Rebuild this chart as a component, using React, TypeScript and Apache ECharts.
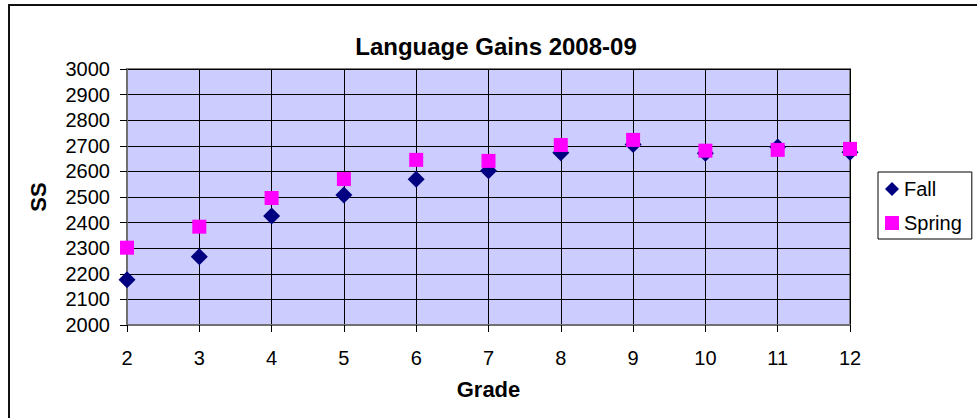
import React, { useEffect, useRef } from "react";
import * as echarts from "echarts";

const grades = [2, 3, 4, 5, 6, 7, 8, 9, 10, 11, 12];
const fallValues = [2177, 2267, 2426, 2508, 2569, 2603, 2673, 2705, 2671, 2695, 2675];
const springValues = [2302, 2384, 2496, 2570, 2645, 2641, 2703, 2723, 2681, 2684, 2688];

const FONT = "'Liberation Sans', Arial, sans-serif";

export default function App() {
  const ref = useRef<HTMLDivElement>(null);
  useEffect(() => {
    if (!ref.current) return;
    const chart = echarts.init(ref.current, undefined, { renderer: "svg" });
    const fall = grades.map((g, i) => [g, fallValues[i]]);
    const spring = grades.map((g, i) => [g, springValues[i]]);
    chart.setOption({
      animation: false,
      backgroundColor: "#ffffff",
      textStyle: { fontFamily: FONT },
      title: {
        text: "Language Gains 2008-09",
        left: 491,
        textAlign: "center",
        top: 29,
        textStyle: { fontFamily: FONT, fontSize: 24, fontWeight: "bold", color: "#000" },
      },
      graphic: [
        {
          type: "rect",
          shape: { x: 9, y: 5, width: 1000, height: 500 },
          style: { fill: "none", stroke: "#111", lineWidth: 2 },
          silent: true,
          z: -1,
        },
      ],
      legend: {
        orient: "vertical",
        left: 878,
        top: 172,
        padding: [7, 10, 6, 7],
        itemGap: 14,
        itemWidth: 14,
        itemHeight: 14,
        itemTextGap: 6,
        borderColor: "#000",
        borderWidth: 1,
        textStyle: { fontFamily: FONT, fontSize: 20, color: "#000", lineHeight: 20 },
        data: [
          { name: "Fall", icon: "diamond" },
          { name: "Spring", icon: "rect" },
        ],
      },
      grid: {
        left: 127,
        right: 127,
        top: 69,
        bottom: 93,
        show: true,
        backgroundColor: "#CCCCFF",
        borderColor: "#808080",
        borderWidth: 2,
      },
      xAxis: {
        type: "value",
        min: 2,
        max: 12,
        interval: 1,
        name: "Grade",
        nameLocation: "middle",
        nameGap: 53,
        nameTextStyle: { fontFamily: FONT, fontSize: 22, fontWeight: "bold", color: "#000" },
        axisLine: { show: true, onZero: false, lineStyle: { color: "#707070", width: 2 } },
        axisTick: { show: true, length: 7, lineStyle: { color: "#000", width: 1 } },
        axisLabel: { fontFamily: FONT, fontSize: 20, color: "#000", margin: 23, formatter: (v: number) => String(v) },
        splitLine: { show: true, lineStyle: { color: "#000", width: 1 } },
      },
      yAxis: {
        type: "value",
        min: 2000,
        max: 3000,
        interval: 100,
        name: "SS",
        nameLocation: "middle",
        nameGap: 78,
        nameRotate: 90,
        nameTextStyle: { fontFamily: FONT, fontSize: 22, fontWeight: "bold", color: "#000" },
        axisLine: { show: true, lineStyle: { color: "#707070", width: 2 } },
        axisTick: { show: true, length: 7, lineStyle: { color: "#000", width: 1 } },
        axisLabel: { fontFamily: FONT, fontSize: 20, color: "#000", margin: 17, formatter: (v: number) => String(v) },
        splitLine: { show: true, lineStyle: { color: "#000", width: 1 } },
      },
      series: [
        {
          name: "Fall",
          type: "scatter",
          symbol: "diamond",
          symbolSize: 17,
          itemStyle: { color: "#000080", opacity: 1 },
          data: fall,
          z: 3,
        },
        {
          name: "Spring",
          type: "scatter",
          symbol: "rect",
          symbolSize: 14,
          itemStyle: { color: "#FF00FF", opacity: 1 },
          data: spring,
          z: 4,
        },
      ],
    });
    return () => chart.dispose();
  }, []);
  return (
    <div
      ref={ref}
      style={{ position: "fixed", left: 0, top: 0, width: 977, height: 418 }}
    />
  );
}
